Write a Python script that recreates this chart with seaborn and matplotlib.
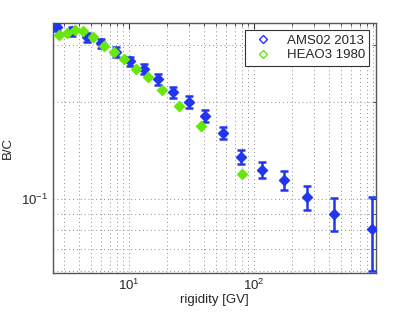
import numpy as np
import matplotlib
matplotlib.use("Agg")
import matplotlib.pyplot as plt
import seaborn as sns
from matplotlib.lines import Line2D
from matplotlib.ticker import LogLocator, NullFormatter, FixedLocator

# AMS02 2013 B/C ratio
ams_rig = [2.65, 3.50, 4.61, 5.97, 7.87, 10.2, 13.2, 17.1, 22.5, 30.2,
           40.6, 56.5, 78.7, 116, 174, 265, 437, 879]
ams_bc = [0.341, 0.331, 0.317, 0.304, 0.285, 0.267, 0.253, 0.235, 0.214, 0.200,
          0.181, 0.160, 0.135, 0.123, 0.1145, 0.1014, 0.0899, 0.0807]
ams_err = [0.010, 0.010, 0.010, 0.010, 0.010, 0.009, 0.009, 0.009, 0.008, 0.008,
           0.008, 0.007, 0.0065, 0.007, 0.008, 0.0087, 0.0105, 0.021]

# HEAO3 1980 B/C ratio
heao_rig = [2.75, 3.19, 3.70, 4.29, 5.15, 6.31, 7.59, 9.12, 11.4, 14.2,
            18.4, 25.1, 37.7, 80.2]
heao_bc = [0.322, 0.326, 0.334, 0.331, 0.317, 0.298, 0.285, 0.271, 0.253, 0.239,
           0.217, 0.194, 0.168, 0.120]

blue = "#2236f0"
green = "#66e80c"

sns.set_style("white")
plt.rcParams["font.family"] = ["Liberation Sans", "DejaVu Sans"]
plt.rcParams["mathtext.fontset"] = "custom"
plt.rcParams["mathtext.rm"] = "Liberation Sans"

fs = 9.5

fig = plt.figure(figsize=(4.15, 3.12), dpi=100)
ax = fig.add_axes([0.128, 0.125, 0.778, 0.801])

ax.errorbar(ams_rig, ams_bc, yerr=ams_err, fmt="none", ecolor=blue,
            elinewidth=1.8, capsize=3, capthick=1.8, zorder=3)
sns.scatterplot(x=ams_rig, y=ams_bc, ax=ax, marker="D", s=26, color=blue,
                edgecolor=blue, linewidth=1, zorder=4)
sns.scatterplot(x=heao_rig, y=heao_bc, ax=ax, marker="D", s=26, color=green,
                edgecolor=green, linewidth=1, zorder=5)

ax.set_xscale("log")
ax.set_yscale("log")
ax.set_xlim(2.47, 946)
ax.set_ylim(0.059, 0.351)

ax.xaxis.set_major_locator(FixedLocator([10, 100]))
ax.set_xticklabels(["$10^{1}$", "$10^{2}$"])
ax.xaxis.set_minor_locator(LogLocator(base=10, subs=np.arange(2, 10)))
ax.xaxis.set_minor_formatter(NullFormatter())
ax.yaxis.set_major_locator(FixedLocator([0.1]))
ax.set_yticklabels(["$10^{-1}$"])
ax.yaxis.set_minor_locator(LogLocator(base=10, subs=np.arange(2, 10)))
ax.yaxis.set_minor_formatter(NullFormatter())

ax.grid(True, which="both", linestyle=(0, (1, 3)), color="#8c8c8c",
        linewidth=0.7)
ax.tick_params(which="both", direction="in", top=True, right=True,
               labelsize=fs, color="#333333")
ax.tick_params(which="major", length=4)
ax.tick_params(which="minor", length=2)
for s in ax.spines.values():
    s.set_color("#555555")
    s.set_linewidth(1)

ax.set_xlabel("rigidity [GV]", fontsize=fs, labelpad=1)
ax.set_ylabel("B/C", fontsize=fs, labelpad=5)

handles = [
    Line2D([], [], linestyle="none", marker="D", markersize=4.5,
           markerfacecolor="none", markeredgecolor=blue, label="AMS02 2013"),
    Line2D([], [], linestyle="none", marker="D", markersize=4.5,
           markerfacecolor="none", markeredgecolor=green, label="HEAO3 1980"),
]
leg = ax.legend(handles=handles, loc="upper right", fontsize=fs,
                frameon=True, fancybox=False, framealpha=1, edgecolor="#333333",
                borderaxespad=0.5, handletextpad=0.8, labelspacing=0.2,
                borderpad=0.35, handlelength=2.0)
leg.get_frame().set_linewidth(0.8)

fig.savefig("out.png", dpi=100)
